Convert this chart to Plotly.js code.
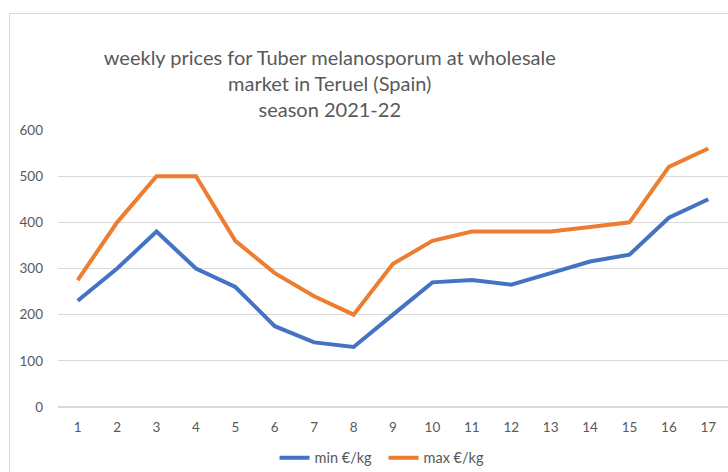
<!DOCTYPE html>
<html>
<head>
<meta charset="utf-8">
<script src="https://cdn.plot.ly/plotly-3.0.1.min.js"></script>
<style>
  html, body { margin: 0; padding: 0; background: #ffffff; }
  #wrap { position: relative; width: 728px; height: 472px; overflow: hidden; }
  #frame { position: absolute; left: 9px; top: 13px; width: 740px; height: 480px;
           border-left: 1.5px solid #d9d9d9; border-top: 1.5px solid #d9d9d9; pointer-events: none; }
  #chart { position: absolute; left: 0; top: 0; width: 728px; height: 472px; }
</style>
</head>
<body>
<div id="wrap">
  <div id="chart"></div>
  <div id="frame"></div>
</div>
<script>
const weeks = ['1','2','3','4','5','6','7','8','9','10','11','12','13','14','15','16','17'];
const minPrice = [230, 300, 380, 300, 260, 175, 140, 130, 200, 270, 275, 265, 290, 315, 330, 410, 450];
const maxPrice = [275, 400, 500, 500, 360, 290, 240, 200, 310, 360, 380, 380, 380, 390, 400, 520, 560];
const yTicks = [0, 100, 200, 300, 400, 500, 600];
const seriesNames = ['min €/kg', 'max €/kg'];
const titleText = 'weekly prices for Tuber melanosporum at wholesale<br>market in Teruel (Spain)<br>season 2021-22';

const traces = [
  { x: weeks, y: minPrice, name: seriesNames[0], type: 'scatter', mode: 'lines',
    line: { color: '#4472C4', width: 4 } },
  { x: weeks, y: maxPrice, name: seriesNames[1], type: 'scatter', mode: 'lines',
    line: { color: '#ED7D31', width: 4 } }
];

const layout = {
  width: 728, height: 472,
  paper_bgcolor: '#ffffff', plot_bgcolor: '#ffffff',
  margin: { l: 58, r: 0, t: 130, b: 65, pad: 0 },
  font: { family: 'Lato, "Open Sans", sans-serif', color: '#595959', size: 13.5 },
  title: {
    text: titleText,
    font: { family: 'Lato, "Open Sans", sans-serif', size: 20, color: '#595959' },
    xref: 'container', x: 0.453, xanchor: 'center',
    yref: 'container', y: 1 - 64.5 / 472, yanchor: 'middle'
  },
  xaxis: {
    type: 'category', range: [-0.5, 16.5], showgrid: false, zeroline: false, showline: false,
    ticks: '', ticklen: 0, ticklabelstandoff: 10, tickfont: { size: 13.5, color: '#595959' },
    fixedrange: true
  },
  yaxis: {
    range: [0, 600], tickvals: yTicks, ticktext: yTicks.map(String),
    showgrid: true, gridcolor: '#d9d9d9', gridwidth: 1.3,
    zeroline: true, zerolinecolor: '#d9d9d9', zerolinewidth: 1.3,
    showline: false, ticks: '', ticklabelstandoff: 14,
    tickfont: { size: 13.5, color: '#595959' }, fixedrange: true
  },
  showlegend: true,
  legend: {
    orientation: 'h', xref: 'container', yref: 'container',
    x: 0.3771, xanchor: 'left', y: 1 - 457.7 / 472, yanchor: 'middle',
    entrywidth: 64,
    font: { size: 14.5, color: '#595959' }, bgcolor: 'rgba(0,0,0,0)',
    tracegroupgap: 0, itemclick: false, itemdoubleclick: false
  }
};

Plotly.newPlot('chart', traces, layout, { displayModeBar: false, staticPlot: true });
</script>
</body>
</html>
